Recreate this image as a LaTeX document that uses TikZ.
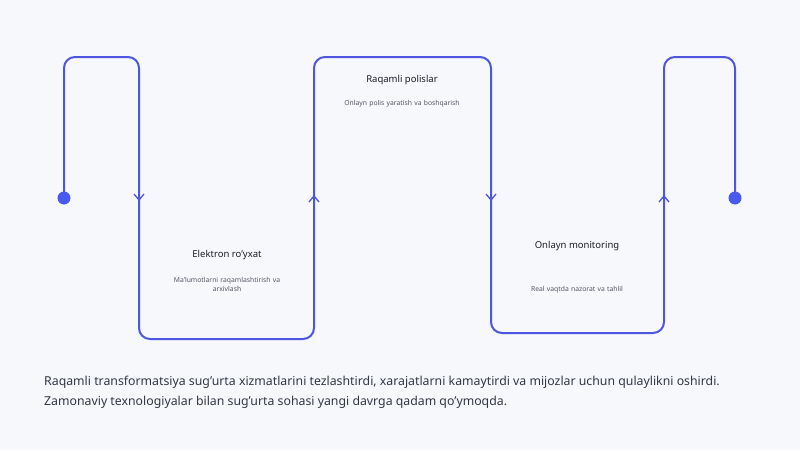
\documentclass[tikz,border=0pt]{standalone}
\usepackage{fontspec}
\setmainfont{Noto Sans}
\definecolor{bgc}{RGB}{247,248,252}
\definecolor{linec}{RGB}{78,86,222}
\definecolor{dotc}{RGB}{72,90,240}
\definecolor{titlec}{RGB}{30,32,40}
\definecolor{subc}{RGB}{85,88,100}
\definecolor{bodyc}{RGB}{50,55,68}
\begin{document}
\begin{tikzpicture}[x=1pt,y=-1pt,
  wave/.style={draw=linec,line width=2pt,rounded corners=11pt},
  chev/.style={draw=linec,line width=1.3pt},
  enddot/.style={circle,fill=dotc,inner sep=0pt,minimum size=13pt},
  ttl/.style={font=\fontsize{9.5}{11}\selectfont,text=titlec,align=center},
  sub/.style={font=\fontsize{6.8}{9}\selectfont,text=subc,align=center,text width=130pt},
  body/.style={font=\fontsize{12.3}{20}\selectfont,text=bodyc,anchor=north west,align=left,inner sep=0pt}]
\fill[bgc] (0,0) rectangle (800,450);
\useasboundingbox (0,0) rectangle (800,450);
\coordinate (s) at (64,198);
\coordinate (e) at (735,198);
\draw[wave] (s) -- (64,57) -- (139,57) -- (139,339) -- (314,339) -- (314,57) -- (491,57) -- (491,333) -- (664,333) -- (664,57) -- (735,57) -- (e);
\node[enddot] (sd) at (s) {};
\node[enddot] (ed) at (e) {};
% chevrons
\draw[chev] (134,194) -- (139,200) -- (144,194);
\draw[chev] (309,202) -- (314,196) -- (319,202);
\draw[chev] (486,194) -- (491,200) -- (496,194);
\draw[chev] (659,202) -- (664,196) -- (669,202);
% labels
\node[ttl] (t1) at (227,255) {Elektron ro'yxat};
\node[sub] (d1) at (227,284) {Ma'lumotlarni raqamlashtirish va\\arxivlash};
\node[ttl] (t2) at (402,80) {Raqamli polislar};
\node[sub] (d2) at (402,104) {Onlayn polis yaratish va boshqarish};
\node[ttl] (t3) at (577,246) {Onlayn monitoring};
\node[sub] (d3) at (577,290) {Real vaqtda nazorat va tahlil};
\node[body] (b) at (44,376) {Raqamli transformatsiya sug'urta xizmatlarini tezlashtirdi, xarajatlarni kamaytirdi va mijozlar uchun qulaylikni oshirdi.\\Zamonaviy texnologiyalar bilan sug'urta sohasi yangi davrga qadam qo'ymoqda.};
\end{tikzpicture}
\end{document}
